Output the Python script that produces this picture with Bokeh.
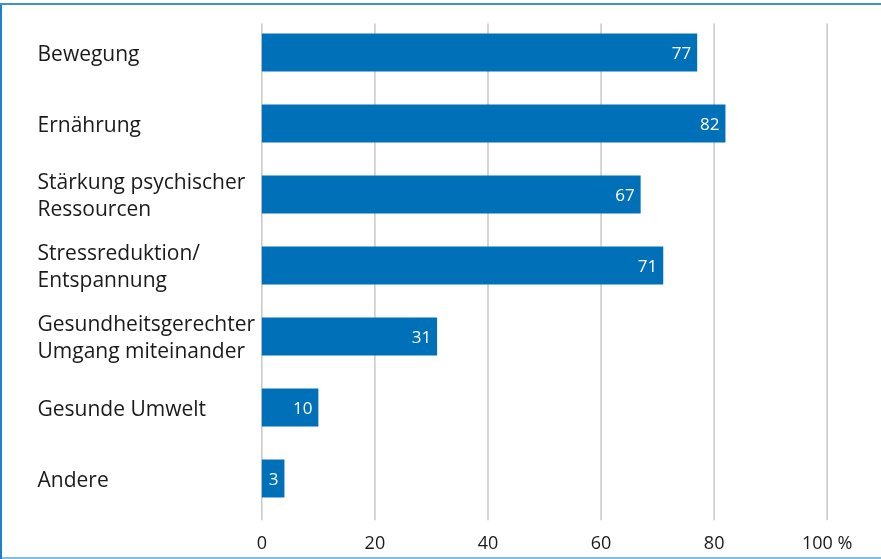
from bokeh.plotting import figure
from bokeh.models import ColumnDataSource, FactorRange, FixedTicker, Range1d
from bokeh.core.properties import value
from bokeh.embed import file_html
from bokeh.resources import INLINE

categories = ["Bewegung", "Ernährung", "Stärkung psychischer\nRessourcen",
              "Stressreduktion/\nEntspannung", "Gesundheitsgerechter\nUmgang miteinander",
              "Gesunde Umwelt", "Andere"]
bar_values = [77, 82, 67, 71, 31, 10, 4]
value_labels = ["77", "82", "67", "71", "31", "10", "3"]
x_ticks = [0, 20, 40, 60, 80, 100]
x_tick_labels = {0: "0", 20: "20", 40: "40", 60: "60", 80: "80", 100: "100 %"}

FONT = "Open Sans"
BAR = "#0070B9"
GRID = "#c8c8c8"
PAD = 6.5 / 71

src = ColumnDataSource(dict(cat=categories, val=bar_values, lab=value_labels,
                            lx=[-39.67] * len(categories)))

grid_src = ColumnDataSource(dict(
    x=x_ticks,
    y0=[(categories[0], 0.5 - PAD)] * len(x_ticks),
    y1=[(categories[-1], -0.5 - PAD)] * len(x_ticks)))

p = figure(y_range=FactorRange(*categories[::-1], range_padding=PAD,
                               range_padding_units="absolute"),
           x_range=Range1d(-46.22, 109.60),
           width=881, height=559,
           min_border_top=10, min_border_bottom=39, min_border_left=0, min_border_right=0,
           output_backend="svg", toolbar_location=None)
p.styles = {"position": "fixed", "left": "0px", "top": "0px",
            "box-shadow": ("inset 0 3px 0 0 white, inset 0 5px 0 0 #3d8fd2, "
                           "inset 2px 0 0 0 #1f80cf, inset 0 -2px 0 0 #7fc0ea")}
p.outline_line_color = None
p.background_fill_color = None
p.border_fill_color = None

p.segment(x0="x", x1="x", y0="y0", y1="y1", source=grid_src,
          line_color=GRID, line_width=1.5)
p.hbar(y="cat", right="val", left=0, height=0.535, source=src,
       fill_color=BAR, line_color=None)
p.text(x="val", y="cat", text="lab", source=src, x_offset=-6,
       text_align="right", text_baseline="middle", text_color="white",
       text_font=value(FONT), text_font_size="17px")
p.text(x="lx", y="cat", text="cat", source=src,
       text_align="left", text_baseline="middle", text_color="#1a1a1a",
       text_font=value(FONT), text_font_size="21px", text_line_height=0.95)

p.yaxis.visible = False
p.ygrid.grid_line_color = None
p.xgrid.grid_line_color = None
p.xaxis.ticker = FixedTicker(ticks=x_ticks)
p.xaxis.major_label_overrides = x_tick_labels
p.xaxis.axis_line_color = None
p.xaxis.major_tick_line_color = None
p.xaxis.minor_tick_line_color = None
p.xaxis.major_label_standoff = 3
p.xaxis.major_label_text_font = FONT
p.xaxis.major_label_text_font_size = "18px"
p.xaxis.major_label_text_color = "#1a1a1a"

open("out.html", "w").write(file_html(p, INLINE))
